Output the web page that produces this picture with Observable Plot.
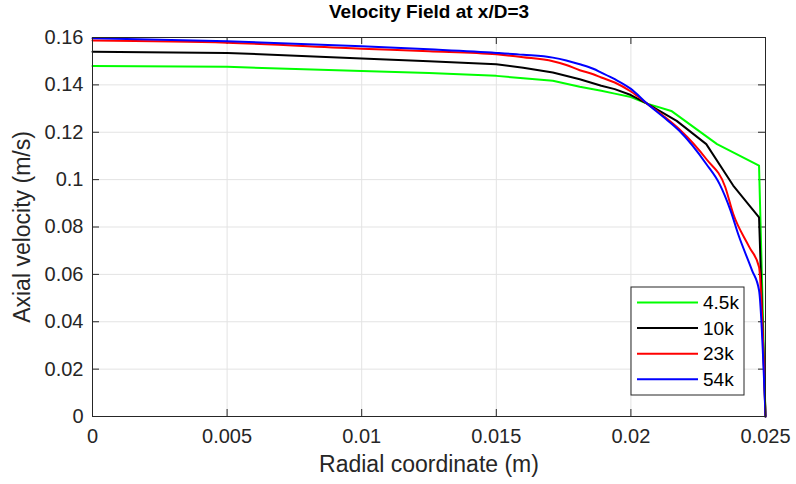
<!DOCTYPE html>
<html>
<head>
<meta charset="utf-8">
<script src="https://cdn.jsdelivr.net/npm/d3@7"></script>
<script src="https://cdn.jsdelivr.net/npm/@observablehq/plot@0.6"></script>
<style>
  html, body { margin: 0; padding: 0; background: #fff; }
  svg { font-family: "Liberation Sans", Arial, Helvetica, sans-serif; }
</style>
</head>
<body>
<div id="chart"></div>
<script>
// ---- data ----
const seriesNames = ["4.5k", "10k", "23k", "54k"];
const seriesColors = ["#00ff00", "#000000", "#ff0000", "#0000ff"];

const r45 = [0, 0.005, 0.01, 0.0125, 0.015, 0.016, 0.0171, 0.0181, 0.0189, 0.0194, 0.02, 0.0206, 0.0215, 0.0232, 0.02476, 0.025];
const u45 = [0.148, 0.1476, 0.1459, 0.145, 0.1438, 0.1428, 0.1417, 0.1392, 0.1375, 0.1363, 0.1349, 0.1321, 0.129, 0.115, 0.1059, 0];

const r10 = [0, 0.005, 0.01, 0.0125, 0.015, 0.016, 0.0171, 0.0181, 0.0189, 0.0194, 0.02, 0.0206, 0.0217, 0.0228, 0.0238, 0.02476, 0.025];
const u10 = [0.154, 0.1535, 0.1511, 0.15, 0.1487, 0.1472, 0.1452, 0.1424, 0.1396, 0.1382, 0.1357, 0.1321, 0.1248, 0.115, 0.0975, 0.0841, 0];

const r23 = [0, 0.005, 0.01, 0.0125, 0.015, 0.016, 0.0171, 0.0176, 0.0181, 0.0186, 0.0189, 0.0194, 0.02, 0.0206, 0.0212, 0.0218, 0.0228, 0.0235, 0.0238, 0.0244, 0.02476, 0.025];
const u23 = [0.1587, 0.1578, 0.1553, 0.1542, 0.1529, 0.1517, 0.150, 0.1484, 0.1462, 0.1445, 0.1431, 0.141, 0.1372, 0.1321, 0.127, 0.1213, 0.1087, 0.097, 0.0856, 0.0715, 0.0631, 0];

const r54 = [0, 0.005, 0.01, 0.0125, 0.015, 0.016, 0.0171, 0.0176, 0.0181, 0.0186, 0.0189, 0.0194, 0.02, 0.0206, 0.0212, 0.0218, 0.0228, 0.0233, 0.0237, 0.0240, 0.0245, 0.02476, 0.025];
const u54 = [0.1597, 0.1584, 0.1563, 0.155, 0.1535, 0.1527, 0.1515, 0.1503, 0.1487, 0.1468, 0.1452, 0.1424, 0.1383, 0.1321, 0.1265, 0.1206, 0.1066, 0.098, 0.087, 0.0765, 0.0617, 0.0533, 0];

const xTicks = [0, 0.005, 0.01, 0.015, 0.02, 0.025];
const xTickLabels = ["0", "0.005", "0.01", "0.015", "0.02", "0.025"];
const yTicks = [0, 0.02, 0.04, 0.06, 0.08, 0.1, 0.12, 0.14, 0.16];
const yTickLabels = ["0", "0.02", "0.04", "0.06", "0.08", "0.1", "0.12", "0.14", "0.16"];

const titleText = "Velocity Field at x/D=3";
const xLabel = "Radial coordinate (m)";
const yLabel = "Axial velocity (m/s)";

// ---- build tables ----
const rs = [r45, r10, r23, r54];
const us = [u45, u10, u23, u54];
const tables = seriesNames.map((name, i) => rs[i].map((r, j) => ({series: name, r, u: us[i][j]})));

const W = 796, H = 484;
const mL = 92, mR = 31, mT = 37, mB = 68;
const fw = W - mL - mR, fh = H - mT - mB;
const tickLen = 7;
const axisColor = "#262626";
const gridColor = "#e3e3e3";
const curves = ["linear", "linear", "monotone-x", "monotone-x"];

const chart = Plot.plot({
  width: W,
  height: H,
  marginLeft: mL,
  marginRight: mR,
  marginTop: mT,
  marginBottom: mB,
  style: {fontFamily: '"Liberation Sans", Arial, sans-serif', background: "#fff"},
  x: {domain: [0, 0.025]},
  y: {domain: [0, 0.16]},
  color: {domain: seriesNames, range: seriesColors},
  marks: [
    Plot.gridX(xTicks, {stroke: gridColor, strokeOpacity: 1, strokeWidth: 1}),
    Plot.gridY(yTicks, {stroke: gridColor, strokeOpacity: 1, strokeWidth: 1}),
    Plot.axisX(xTicks, {tickSize: 0, tickPadding: 12, fontSize: 20, fill: axisColor,
      tickFormat: (d, i) => xTickLabels[i], label: null}),
    Plot.axisY(yTicks, {tickSize: 0, tickPadding: 9, fontSize: 20, fill: axisColor,
      tickFormat: (d, i) => yTickLabels[i], label: null}),
    // inward ticks (bottom, top, left, right)
    Plot.tickX(xTicks, {x: d => d, stroke: axisColor, insetTop: fh - tickLen}),
    Plot.tickX(xTicks, {x: d => d, stroke: axisColor, insetBottom: fh - tickLen}),
    Plot.tickY(yTicks, {y: d => d, stroke: axisColor, insetRight: fw - tickLen}),
    Plot.tickY(yTicks, {y: d => d, stroke: axisColor, insetLeft: fw - tickLen}),
    ...tables.map((t, i) => Plot.line(t, {x: "r", y: "u", stroke: "series", strokeWidth: 2, curve: curves[i]})),
    Plot.frame({stroke: axisColor, strokeWidth: 1}),
    Plot.text([titleText], {frameAnchor: "top", dy: -33, fontSize: 19, fontWeight: "bold", fill: "#000", text: d => d}),
    Plot.text([xLabel], {frameAnchor: "bottom", dy: 55, fontSize: 23, fill: axisColor, text: d => d}),
    Plot.text([yLabel], {frameAnchor: "left", dx: -70, rotate: -90, textAnchor: "middle", fontSize: 23, fill: axisColor, text: d => d})
  ]
});

document.getElementById("chart").appendChild(chart);

// ---- legend inside the axes (lower right) ----
const svg = d3.select(chart.tagName.toLowerCase() === "svg" ? chart : chart.querySelector("svg"));
const lg = svg.append("g").attr("transform", "translate(631,287)");
lg.append("rect").attr("width", 113).attr("height", 108)
  .attr("fill", "#fff").attr("stroke", axisColor).attr("stroke-width", 1);
seriesNames.forEach((name, i) => {
  const y = 15.5 + i * 25.6;
  lg.append("line").attr("x1", 6).attr("x2", 67).attr("y1", y).attr("y2", y)
    .attr("stroke", seriesColors[i]).attr("stroke-width", 2);
  lg.append("text").attr("x", 72).attr("y", y).attr("dy", "0.35em")
    .attr("text-anchor", "start")
    .attr("font-size", 19).attr("fill", "#000").text(name);
});
</script>
</body>
</html>
